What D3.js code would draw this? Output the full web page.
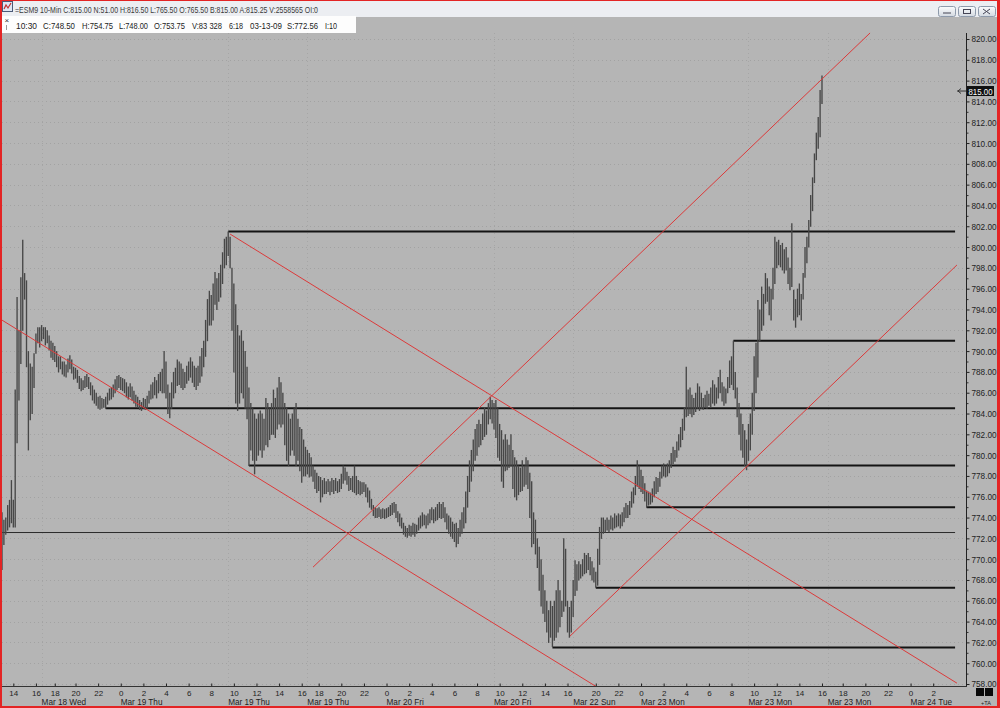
<!DOCTYPE html>
<html><head><meta charset="utf-8">
<script src="https://cdn.jsdelivr.net/npm/d3@7"></script>
<style>html,body{margin:0;padding:0;background:#b5b5b5;} svg{display:block;font-family:"Liberation Sans",Arial,sans-serif;}</style>
</head><body><svg id="c" width="1000" height="708"></svg>
<script>
// ---------- DATA ----------
const highs = [
774.5,773.8,774.0,775.2,775.7,777.6,775.7,786.3,795.2,792.0,
797.1,800.7,797.5,796.8,790.0,788.8,788.5,789.8,791.7,792.3,
792.3,792.5,792.3,792.3,792.0,791.5,791.0,790.8,790.5,790.0,
789.5,789.5,789.0,789.0,788.7,789.3,789.6,789.2,788.5,788.4,
788.2,787.6,787.4,787.2,787.6,787.8,787.5,787.0,786.7,786.3,
786.0,785.6,785.7,785.5,785.4,785.6,786.0,786.4,786.5,786.8,
787.3,787.6,787.7,787.5,787.4,787.3,787.0,786.6,786.9,786.6,
786.2,785.8,785.6,785.3,785.1,785.5,785.4,785.7,786.2,786.8,
787.0,787.5,787.2,787.8,788.0,788.3,790.0,789.0,786.8,786.0,
787.0,788.0,788.4,789.2,789.0,788.8,788.3,788.0,788.6,789.0,
789.4,789.0,788.6,788.4,788.6,789.5,790.3,791.0,793.0,795.0,
795.8,795.4,796.5,797.6,797.0,797.5,798.3,799.5,800.8,801.0,
801.5,801.0,798.0,796.5,794.5,792.5,791.5,792.0,791.0,790.0,
788.5,786.5,785.0,784.5,784.0,783.5,784.0,784.3,784.0,783.5,
785.5,785.0,784.5,785.0,786.3,785.5,786.5,787.5,787.0,786.0,
785.0,784.6,784.0,783.5,784.0,784.5,785.0,783.5,782.7,782.5,
781.5,780.8,780.5,780.2,779.8,779.0,778.6,778.3,778.0,777.9,
777.6,777.8,777.5,777.7,777.5,777.8,777.6,777.8,777.5,777.7,
778.2,779.0,778.8,778.4,778.0,777.8,778.0,779.0,778.0,777.6,
777.5,777.4,777.4,777.2,776.9,776.6,775.8,775.2,775.0,774.9,
775.0,774.8,774.9,774.8,774.9,775.0,775.2,775.4,775.5,775.3,
774.6,774.4,774.0,773.5,773.2,773.0,773.3,773.2,773.5,773.4,
773.3,774.0,774.2,774.5,774.3,774.2,774.4,774.8,775.0,774.8,
775.0,775.3,775.5,775.3,775.5,775.0,774.4,774.2,774.0,773.6,
773.4,773.5,773.0,773.8,774.5,775.0,776.5,778.0,779.5,780.5,
781.5,782.5,783.0,783.4,783.0,784.0,784.6,784.3,785.0,785.6,
785.3,785.0,785.3,784.5,783.0,782.4,781.5,782.0,781.5,781.0,
782.0,780.5,779.8,779.5,779.0,778.8,779.5,779.0,779.8,779.5,
778.3,777.5,774.5,773.8,772.0,771.2,770.0,768.5,767.0,766.0,
765.1,766.0,765.5,766.0,767.0,768.0,767.0,766.0,772.0,771.0,
766.0,765.4,766.0,768.0,769.9,769.5,769.8,769.5,770.0,770.6,
770.4,770.6,770.2,769.8,769.2,768.8,771.0,773.1,774.0,774.0,
773.8,774.0,773.8,774.2,774.0,774.4,774.2,774.4,774.3,774.5,
775.0,775.4,775.2,775.6,776.5,776.9,778.0,779.5,779.0,778.6,
778.0,777.3,776.6,776.5,776.4,776.8,777.5,777.9,777.8,778.4,
779.0,779.2,779.0,779.2,779.5,780.2,780.8,780.5,781.3,782.0,
782.7,783.5,784.6,788.5,786.3,786.5,785.8,785.5,786.0,786.9,
786.6,786.0,785.5,785.8,786.2,785.9,786.5,787.2,786.8,786.5,
787.5,788.2,787.0,786.6,786.4,787.5,789.1,789.5,791.0,788.0,
786.5,785.0,784.0,783.0,782.4,781.5,783.0,784.0,786.0,789.5,
790.8,794.9,794.0,796.2,795.5,797.5,797.0,796.2,796.0,798.0,
801.0,800.5,800.7,800.2,800.4,799.8,800.0,799.0,798.0,802.3,
795.9,795.0,796.0,796.5,795.5,797.5,800.0,801.0,802.6,805.0,
806.7,809.0,811.0,812.5,815.1,816.5];
const lows = [
769.0,771.4,772.4,772.8,773.1,773.5,773.1,773.1,781.2,785.3,
788.8,792.0,795.0,788.5,780.5,783.4,784.0,786.5,789.8,790.8,
790.4,791.0,791.2,790.6,790.8,790.1,789.4,789.2,789.0,788.5,
788.0,788.3,787.8,787.6,787.5,788.0,788.3,787.9,787.3,787.4,
787.0,786.4,786.2,786.3,786.5,786.6,786.4,785.8,785.3,785.0,
784.8,784.5,784.4,784.5,784.6,784.5,784.9,785.3,785.4,785.6,
786.0,786.3,786.5,786.3,786.2,786.0,785.6,785.4,785.6,785.3,
785.0,784.7,784.6,784.4,784.3,784.5,784.4,784.5,785.0,785.4,
785.5,785.8,785.5,786.0,786.2,786.0,786.0,785.5,784.0,783.6,
784.5,785.5,786.0,786.7,786.8,786.5,786.3,786.5,786.9,787.2,
787.5,787.0,786.6,786.3,786.7,787.0,787.6,788.5,789.5,791.0,
792.5,792.5,793.0,794.5,794.0,794.8,795.2,796.5,798.0,798.3,
799.2,798.0,792.0,788.0,785.0,784.3,785.0,786.0,785.5,784.5,
783.5,779.0,780.5,779.5,778.2,779.5,780.0,780.5,779.8,780.5,
781.0,780.8,781.5,782.0,782.0,781.7,782.5,783.0,782.7,783.0,
781.0,779.5,779.0,780.0,780.5,780.0,779.0,779.5,778.5,777.4,
778.0,778.0,778.2,777.9,778.0,777.5,776.8,776.4,776.6,775.5,
776.0,776.3,776.3,776.5,776.2,776.5,776.3,776.6,776.4,776.5,
776.8,777.3,777.6,777.2,776.6,776.7,776.5,776.4,776.2,776.3,
776.2,776.3,776.5,776.0,775.5,775.0,774.8,774.2,774.0,774.0,
774.1,773.9,774.0,773.9,774.0,774.1,774.2,774.3,774.5,774.0,
773.6,773.2,773.0,772.4,772.2,772.1,772.3,772.2,772.4,772.2,
772.5,772.8,773.0,773.2,773.3,773.0,773.3,773.5,773.8,773.5,
773.7,773.8,774.0,773.9,774.0,773.6,772.9,772.5,772.2,772.0,
771.7,771.2,771.5,772.2,772.5,773.0,773.5,775.0,776.5,777.5,
778.5,779.5,780.0,780.8,781.0,781.5,781.8,782.0,783.0,783.5,
783.1,782.5,781.7,779.8,779.5,777.5,776.9,778.5,778.6,778.8,
779.0,776.8,776.0,775.7,776.2,776.5,776.6,777.0,777.2,776.8,
774.0,771.2,771.5,770.5,769.2,767.0,765.5,764.8,764.0,763.0,
762.0,762.5,761.6,762.2,762.5,763.0,763.5,764.5,765.0,765.5,
763.0,762.5,763.0,764.5,766.5,767.0,768.0,768.2,768.4,768.6,
768.7,769.0,768.5,768.0,767.8,767.3,767.5,769.5,772.0,772.5,
772.6,772.8,772.6,772.9,772.8,773.0,773.1,773.2,773.0,773.2,
773.6,774.0,774.0,774.3,775.0,775.4,776.2,777.0,776.8,776.5,
776.3,775.6,775.0,775.2,775.3,775.5,776.0,776.3,776.5,777.0,
777.8,778.0,777.9,778.0,778.3,778.8,779.2,779.4,779.8,780.5,
780.8,781.5,782.4,783.7,783.8,784.0,783.7,783.9,784.2,784.5,
784.3,784.5,784.4,784.6,784.5,784.8,784.6,785.0,784.8,785.0,
785.5,786.0,785.2,784.8,785.0,786.0,786.5,786.8,786.3,785.5,
783.7,782.0,780.5,779.8,779.0,778.6,779.5,780.5,782.0,784.3,
786.0,787.5,791.0,792.0,792.5,794.6,794.8,793.5,793.0,795.0,
796.5,798.0,798.3,798.1,797.8,797.5,797.8,796.5,795.9,796.2,
793.0,792.3,793.3,793.5,793.0,795.0,797.1,798.5,800.0,802.0,
803.5,806.2,808.4,809.5,810.6,813.8];

// price axis labels
const priceTicks = [758,760,762,764,766,768,770,772,774,776,778,780,782,784,786,788,790,792,794,796,798,800,802,804,806,808,810,812,814,816,818,820];
const priceMinor = [759,761,763,765,767,769,771,773,775,777,779,781,783,785,787,789,791,793,795,797,799,801,803,805,807,809,811,813,815,817,819];
// time axis: bar index of each hour label
const hourIdx = [6,18,28,39,51,63,75,87,99,111,123,135,147,159,168,180,192,204,216,228,240,252,264,276,288,300,315,327,339,351,363,375,387,399,411,423,435,446,458,470,482,494];
const hourLabels = ["14","16","18","20","22","0","2","4","6","8","10","12","14","16","18","20","22","0","2","4","6","8","10","12","14","16","20","22","0","2","4","6","8","10","12","14","16","18","20","22","0","2"];
const dateIdx = [21,63,120,162,204,261,303,339,396,438,482];
const dateLabels = ["Mar 18 Wed","Mar 19 Thu","Mar 19 Thu","Mar 19 Thu","Mar 20 Fri","Mar 20 Fri","Mar 22 Sun","Mar 23 Mon","Mar 23 Mon","Mar 23 Mon","Mar 24 Tue"];
const sessionIdx = [21,120,162,261,303,396,438];
// horizontal support / resistance levels
const levelPrice = [801.5,791.0,784.5,779.0,775.0,767.25,761.5];
const levelStart = [120,388,55,131,342,315,292];
const levelEnd = 505.6;
const settlePrice = 772.56;
// red trend lines (bar index, price)
const trendFrom = [[-1.1,793.1],[121,801.25],[165,769.23],[301.3,762.6]];
const trendTo   = [[315.7,757.7],[506.6,758.08],[460.5,820.58],[506.6,798.28]];
const lastPrice = 815.00;
const titleText = "=ESM9 10-Min C:815.00 N:51.00 H:816.50 L:765.50 O:765.50 B:815.00 A:815.25 V:2558565 OI:0";
const infoItems = ["10:30","C:748.50","H:754.75","L:748.00","O:753.75","V:83 328","6:18","03-13-09","S:772.56","I:10"];

// ---------- DRAW ----------
const W=1000,H=708;
const svg=d3.select("#c");
const x=d3.scaleLinear().domain([0,511.4]).range([2,966]);
const y=d3.scaleLinear().domain([758,820]).range([684,39]);
const BG="#b5b5b5";

svg.append("rect").attr("width",W).attr("height",H).attr("fill",BG);
const defs=svg.append("defs");
defs.append("clipPath").attr("id","plot").append("rect").attr("x",2).attr("y",17).attr("width",964).attr("height",669);
const bg=defs.append("linearGradient").attr("id","btn").attr("x1",0).attr("x2",0).attr("y1",0).attr("y2",1);
bg.append("stop").attr("offset",0).attr("stop-color","#fbfcfd");
bg.append("stop").attr("offset",1).attr("stop-color","#d3d9e1");

// grid
const grid=svg.append("g");
grid.selectAll("line.h").data(priceTicks).join("line")
  .attr("x1",2).attr("x2",966).attr("y1",d=>Math.round(y(d))+0.5).attr("y2",d=>Math.round(y(d))+0.5)
  .attr("stroke","#a2a2a2").attr("stroke-width",1).attr("stroke-dasharray","1,3");
grid.selectAll("line.v").data(sessionIdx).join("line")
  .attr("x1",d=>Math.round(x(d))+0.5).attr("x2",d=>Math.round(x(d))+0.5).attr("y1",33).attr("y2",686)
  .attr("stroke","#a6a6a6").attr("stroke-width",1).attr("stroke-dasharray","1,3");

// settlement line
svg.append("line").attr("x1",2).attr("x2",x(levelEnd)).attr("y1",y(settlePrice)).attr("y2",y(settlePrice))
  .attr("stroke","#2a2a2a").attr("stroke-width",1);

// levels
svg.append("g").selectAll("line").data(levelPrice).join("line")
  .attr("x1",(d,i)=>x(levelStart[i])).attr("x2",x(levelEnd))
  .attr("y1",d=>y(d)).attr("y2",d=>y(d))
  .attr("stroke","#141414").attr("stroke-width",2);

// bars
svg.append("g").selectAll("line").data(highs).join("line")
  .attr("x1",(d,i)=>x(i)).attr("x2",(d,i)=>x(i))
  .attr("y1",d=>y(d)).attr("y2",(d,i)=>y(lows[i])+0.5)
  .attr("stroke","#474747").attr("stroke-width",1.35);

// trend lines
svg.append("g").attr("clip-path","url(#plot)").selectAll("line").data(trendFrom).join("line")
  .attr("x1",d=>x(d[0])).attr("y1",d=>y(d[1]))
  .attr("x2",(d,i)=>x(trendTo[i][0])).attr("y2",(d,i)=>y(trendTo[i][1]))
  .attr("stroke","#dc3a3a").attr("stroke-width",1);

// right axis
const ya=svg.append("g").attr("transform","translate(966.5,0)")
  .call(d3.axisRight(y).tickValues(priceTicks).tickFormat(d3.format(".2f")).tickSize(3).tickPadding(2));
ya.select(".domain").remove();
ya.selectAll("line").attr("stroke","#222");
ya.selectAll("text").attr("fill","#1e1e1e").attr("font-size","9.3px").attr("font-family","Liberation Sans, Arial, sans-serif")
  .attr("textLength",25).attr("lengthAdjust","spacingAndGlyphs");
const ym=svg.append("g").attr("transform","translate(966.5,0)")
  .call(d3.axisRight(y).tickValues(priceMinor).tickFormat("").tickSize(2));
ym.select(".domain").remove();
ym.selectAll("line").attr("stroke","#333");
svg.append("line").attr("x1",966.5).attr("x2",966.5).attr("y1",33).attr("y2",686).attr("stroke","#222");

// bottom axis
const xa=svg.append("g").attr("transform","translate(0,686.5)")
  .call(d3.axisBottom(x).tickValues(hourIdx).tickFormat((d,i)=>hourLabels[i]).tickSizeInner(-3).tickSizeOuter(0).tickPadding(0));
xa.select(".domain").remove();
xa.selectAll("line").attr("stroke","#222");
xa.selectAll("text").attr("fill","#1e1e1e").attr("font-size","8px").attr("font-family","Liberation Sans, Arial, sans-serif")
  .attr("dy",null).attr("y",9.2);
svg.append("line").attr("x1",0).attr("x2",967).attr("y1",686.5).attr("y2",686.5).attr("stroke","#333");
svg.append("g").selectAll("text").data(dateLabels).join("text")
  .attr("x",(d,i)=>x(dateIdx[i])).attr("y",705).text(d=>d)
  .attr("fill","#1e1e1e").attr("font-size","8.2px");

// last price marker
svg.append("rect").attr("x",967).attr("y",y(lastPrice)-5).attr("width",27).attr("height",10).attr("fill","#111");
svg.append("text").attr("x",968.5).attr("y",y(lastPrice)+3.5).text(d3.format(".2f")(lastPrice))
  .attr("fill","#fff").attr("font-size","9.3px").attr("textLength",24).attr("lengthAdjust","spacingAndGlyphs");
svg.append("path").attr("d",`M957,${y(lastPrice)} H966 M961,${y(lastPrice)-2.5} L958,${y(lastPrice)} L961,${y(lastPrice)+2.5}`)
  .attr("fill","none").attr("stroke","#333").attr("stroke-width",1);

// bottom-right squares and TA
svg.append("rect").attr("x",976).attr("y",688).attr("width",8).attr("height",8).attr("fill","#0a0a0a");
svg.append("rect").attr("x",985).attr("y",688).attr("width",8).attr("height",8).attr("fill","#0a0a0a");
svg.append("text").attr("x",981).attr("y",704.5).text("+TA").attr("font-size","5.5px").attr("fill","#222");

// title bar
svg.append("rect").attr("x",0).attr("y",0).attr("width",W).attr("height",17).attr("fill","#eceef2");
svg.append("rect").attr("x",2.5).attr("y",1.5).attr("width",10).attr("height",10).attr("fill","#dfe6f2").attr("stroke","#4b5a78");
svg.append("path").attr("d","M4,9 L6,5 L8,8 L11,3").attr("fill","none").attr("stroke","#c03030").attr("stroke-width",1.2);
svg.append("text").attr("x",15).attr("y",12.5).text(titleText).attr("font-size","9px").attr("fill","#3a3a3a")
  .attr("textLength",303).attr("lengthAdjust","spacingAndGlyphs");
[938,958,978].forEach((bx,k)=>{
  svg.append("rect").attr("x",bx+0.5).attr("y",6.5).attr("width",17).attr("height",10).attr("rx",2)
    .attr("fill","url(#btn)").attr("stroke","#8e9aab");
});
svg.append("line").attr("x1",943).attr("x2",951).attr("y1",13).attr("y2",13).attr("stroke","#445");
svg.append("rect").attr("x",963.5).attr("y",9.5).attr("width",7).attr("height",4).attr("fill","none").attr("stroke","#445");
svg.append("path").attr("d","M983,9 L990,14 M990,9 L983,14").attr("stroke","#445");

// info row
svg.append("rect").attr("x",0).attr("y",16).attr("width",356).attr("height",17).attr("fill","#fdfdfd");
svg.append("text").attr("x",4.5).attr("y",23).text("×").attr("font-size","8px").attr("fill","#333");
svg.append("line").attr("x1",6.5).attr("x2",6.5).attr("y1",25).attr("y2",30).attr("stroke","#999");
const infoX=[16,43,82,119,154,192,229,250,287,325];
const infoW=[21,32,31,29,31,30,14,32,31,12];
svg.append("g").selectAll("text").data(infoItems).join("text")
  .attr("x",(d,i)=>infoX[i]).attr("y",29).text(d=>d).attr("font-size","9.5px").attr("fill","#222")
  .attr("textLength",(d,i)=>infoW[i]).attr("lengthAdjust","spacingAndGlyphs");

// red window border
svg.append("rect").attr("x",0).attr("y",0).attr("width",2).attr("height",H).attr("fill","#e32424");
svg.append("rect").attr("x",997).attr("y",0).attr("width",3).attr("height",H).attr("fill","#e32424");
svg.append("rect").attr("x",0).attr("y",0).attr("width",W).attr("height",1).attr("fill","#e32424");
svg.append("rect").attr("x",0).attr("y",706).attr("width",W).attr("height",2).attr("fill","#e32424");
</script></body></html>
